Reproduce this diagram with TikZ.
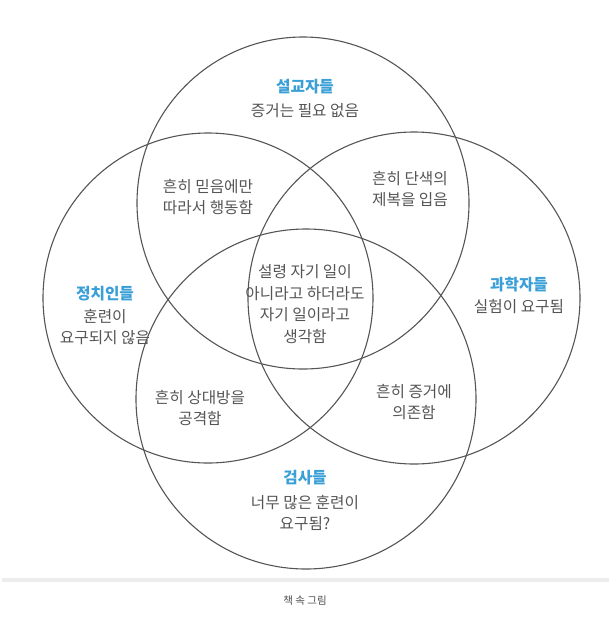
\documentclass[tikz,border=0pt]{standalone}
\usepackage{fontspec}
\setmainfont{Noto Sans CJK KR}
\definecolor{rand}{HTML}{555555}
\definecolor{schrift}{HTML}{555555}
\definecolor{titel}{HTML}{3A9FD6}
\tikzset{
    kreis/.style={draw=rand, line width=1.1pt},
    feld/.style={text=schrift, align=center, font=\fontsize{15.7}{21.5}\selectfont},
    gruppe/.style={text=titel, font=\fontsize{15.7}{21.5}\selectfont\bfseries}
}
\begin{document}
\begin{tikzpicture}[x=1pt, y=-1pt]
    \useasboundingbox (0,0) rectangle (609,625);

    % Die vier Kreise
    \draw[kreis] (303,203) circle (166);
    \draw[kreis] (208,298) circle (165);
    \draw[kreis] (414,298) circle (166);
    \draw[kreis] (306,399) circle (170);

    % Gruppen
    \node[gruppe] (prediger) at (305,87) {설교자들};
    \node[feld] (prediger text) at (305,111) {증거는 필요 없음};
    \node[gruppe] (politiker) at (105,294) {정치인들};
    \node[feld] (politiker text) at (105,327) {훈련이\\요구되지 않음};
    \node[gruppe] (forscher) at (519,285) {과학자들};
    \node[feld] (forscher text) at (519,307) {실험이 요구됨};
    \node[gruppe] (anwaelte) at (305,478) {검사들};
    \node[feld] (anwaelte text) at (305,513) {너무 많은 훈련이\\요구됨?};

    % Schnittmengen
    \node[feld] (glaube) at (208,197) {흔히 믿음에만\\따라서 행동함};
    \node[feld] (uniform) at (410,189) {흔히 단색의\\제복을 입음};
    \node[feld] (angriff) at (200,408) {흔히 상대방을\\공격함};
    \node[feld] (beweis) at (414,402) {흔히 증거에\\의존함};
    \node[feld] (mitte) at (305,304) {설령 자기 일이\\아니라고 하더라도\\자기 일이라고\\생각함};

    % Trennlinie und Unterschrift
    \fill[black!7] (2,578) rectangle (609,582);
    \node[text=black!70, font=\fontsize{10.5}{12}\selectfont] (unterschrift) at (305,601) {책 속 그림};
\end{tikzpicture}
\end{document}
